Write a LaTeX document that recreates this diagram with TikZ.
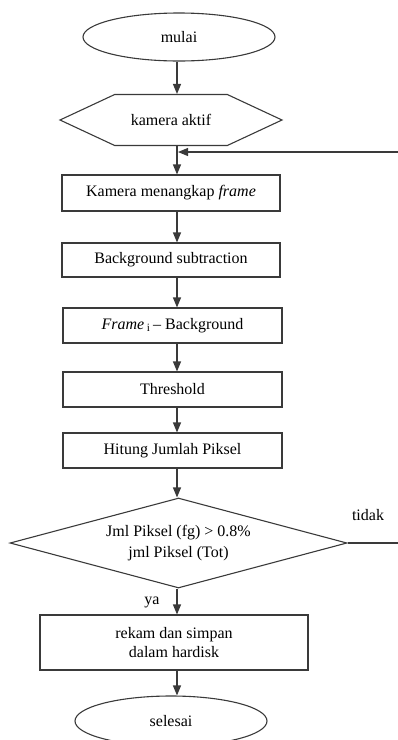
\documentclass[tikz,border=0pt]{standalone}
\usepackage{fontspec}
\setmainfont{Liberation Serif}
\usepackage{tikz}
\usetikzlibrary{arrows.meta, shapes.geometric, shapes.symbols}
\usepackage{xcolor}
\definecolor{edge}{HTML}{3A3A3A}

\begin{document}
\begin{tikzpicture}[x=1pt, y=-1pt,
        font=\fontsize{16}{19}\selectfont,
        every node/.style={inner sep=0pt, draw=edge, line width=1.1pt},
        proc/.style={rectangle, minimum width=219pt, minimum height=35pt},
        term/.style={ellipse, minimum width=192pt, minimum height=48pt},
        arr/.style={-{Triangle[length=10pt,width=8pt]}, line width=1.1pt, draw=edge},
        lbl/.style={draw=none}]
        \useasboundingbox (0,0) rectangle (398,740);
        \coordinate (ax) at (177,0);

        \node[term] (mulai) at (179,37) {mulai};
        \node[signal, signal to=west and east, signal pointer angle=50,
              minimum width=222pt, minimum height=51pt] (aktif) at (171,120) {kamera aktif};
        \node[proc, minimum width=218pt, minimum height=36pt] (tangkap) at (171,193) {Kamera menangkap \textit{frame}};
        \node[proc, minimum width=218pt, minimum height=34pt] (bgsub) at (171,260) {Background subtraction};
        \node[proc] (selisih) at (172.5,325.5) {\textit{Frame}\,\textsubscript{i}\,– Background};
        \node[proc] (thres) at (172.5,389.5) {Threshold};
        \node[proc] (hitung) at (172.5,450.5) {Hitung Jumlah Piksel};
        \node[diamond, aspect=3.7, minimum width=337pt, minimum height=90pt, align=center]
              (cek) at (178.5,543) {Jml Piksel (fg) > 0.8\%\\[2pt]jml Piksel (Tot)};
        \node[proc, minimum width=268pt, minimum height=55pt, align=center]
              (rekam) at (174,642.5) {rekam dan simpan\\dalam hardisk};
        \node[term, minimum height=50pt] (selesai) at (171,721) {selesai};

        \node[lbl] (tidak) at (368,515) {tidak};
        \node[lbl] (ya) at (152,602) {ya};

        \coordinate (gabung) at (178,152);
        \coordinate (balik) at (398,152);
        \coordinate (keluar) at (398,543);

        \draw[arr] (mulai.south -| ax) -- (aktif.north -| ax);
        \draw[arr] (aktif.south -| ax) -- (tangkap.north -| ax);
        \draw[arr] (balik) -- (gabung);
        \draw[arr] (tangkap.south -| ax) -- (bgsub.north -| ax);
        \draw[arr] (bgsub.south -| ax) -- (selisih.north -| ax);
        \draw[arr] (selisih.south -| ax) -- (thres.north -| ax);
        \draw[arr] (thres.south -| ax) -- (hitung.north -| ax);
        \draw[arr] (hitung.south -| ax) -- (cek.north -| ax);
        \draw[arr] (cek.south -| ax) -- (rekam.north -| ax);
        \draw[arr] (rekam.south -| ax) -- (selesai.north -| ax);
        \draw[line width=1.1pt, draw=edge] (cek.east) -- (keluar);

    \end{tikzpicture}
\end{document}
